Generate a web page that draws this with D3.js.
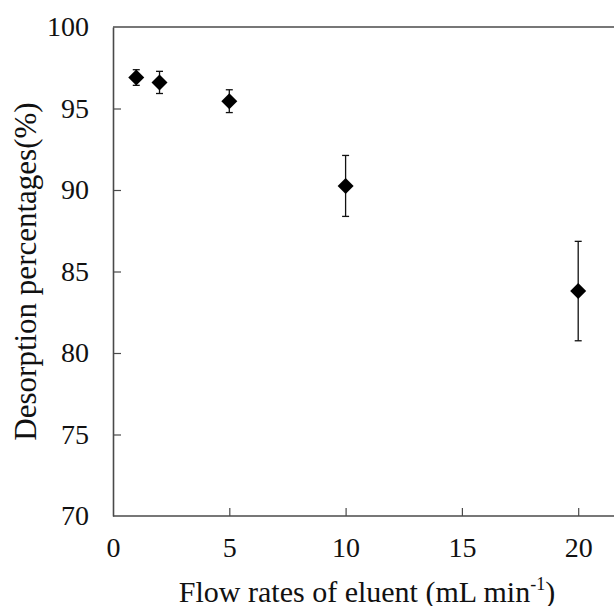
<!DOCTYPE html>
<html>
<head>
<meta charset="utf-8">
<script src="https://cdn.jsdelivr.net/npm/d3@7"></script>
<style>
  body { margin: 0; background: #fff; }
  svg { display: block; font-family: "Liberation Serif", "Times New Roman", serif; }
</style>
</head>
<body>
<script>
// flow rates (mL/min), desorption (%) and error bar half-widths
var flowRates = [1, 2, 5, 10, 20];
var desorption = [96.9, 96.6, 95.45, 90.25, 83.8];
var errors = [0.48, 0.68, 0.7, 1.87, 3.05];
var xTicks = [0, 5, 10, 15, 20];
var yTicks = [70, 75, 80, 85, 90, 95, 100];

var width = 614, height = 606;
var plotLeft = 113, plotTop = 27, plotBottom = 516;

var svg = d3.select("body").append("svg")
    .attr("width", width)
    .attr("height", height);

var x = d3.scaleLinear().domain([0, 22]).range([plotLeft, plotLeft + 22 * 23.26]);
var y = d3.scaleLinear().domain([70, 100]).range([plotBottom, plotTop]);

var axisColor = "#4a4a4a";

// top border
svg.append("line")
    .attr("x1", plotLeft).attr("x2", width)
    .attr("y1", plotTop).attr("y2", plotTop)
    .attr("stroke", axisColor)
    .attr("stroke-width", 1.6);

var yAxis = svg.append("g")
    .attr("transform", "translate(" + plotLeft + ",0)")
    .call(d3.axisLeft(y).tickValues(yTicks).tickSizeInner(-8).tickSizeOuter(0).tickPadding(24));

var xAxis = svg.append("g")
    .attr("transform", "translate(0," + plotBottom + ")")
    .call(d3.axisBottom(x).tickValues(xTicks).tickSizeInner(-8).tickSizeOuter(0).tickPadding(21));

[yAxis, xAxis].forEach(function(g){
    g.select(".domain").attr("stroke", axisColor).attr("stroke-width", 1.6);
    g.selectAll(".tick line").attr("stroke", axisColor).attr("stroke-width", 1.2);
    g.selectAll(".tick text")
        .attr("fill", "#111")
        .style("font-family", "'Liberation Serif', serif")
        .style("font-size", "28px");
});
// no ticks at the corner
yAxis.selectAll(".tick").filter(function(d){ return d === 70 || d === 100; }).select("line").remove();
xAxis.selectAll(".tick").filter(function(d){ return d === 0; }).select("line").remove();
xAxis.select(".domain").attr("d", "M" + plotLeft + ",0H" + width);

// error bars
var pts = flowRates.map(function(f, i){
    return {x: f, y: desorption[i], e: errors[i]};
});

var bars = svg.append("g").attr("stroke", "#111").attr("stroke-width", 1.3);
bars.selectAll(".stem")
    .data(pts)
    .enter().append("line")
        .attr("x1", function(d){ return x(d.x); })
        .attr("x2", function(d){ return x(d.x); })
        .attr("y1", function(d){ return y(d.y + d.e); })
        .attr("y2", function(d){ return y(d.y - d.e); });
bars.selectAll(".capTop")
    .data(pts)
    .enter().append("line")
        .attr("x1", function(d){ return x(d.x) - 3.5; })
        .attr("x2", function(d){ return x(d.x) + 3.5; })
        .attr("y1", function(d){ return y(d.y + d.e); })
        .attr("y2", function(d){ return y(d.y + d.e); });
bars.selectAll(".capBot")
    .data(pts)
    .enter().append("line")
        .attr("x1", function(d){ return x(d.x) - 3.5; })
        .attr("x2", function(d){ return x(d.x) + 3.5; })
        .attr("y1", function(d){ return y(d.y - d.e); })
        .attr("y2", function(d){ return y(d.y - d.e); });

// diamond markers
var diamond = d3.symbol().type(d3.symbolSquare).size(128);
svg.append("g").selectAll("path")
    .data(pts)
    .enter().append("path")
        .attr("d", diamond)
        .attr("transform", function(d){ return "translate(" + x(d.x) + "," + y(d.y) + ") rotate(45)"; })
        .attr("fill", "#000");

// axis titles
svg.append("text")
    .attr("transform", "translate(36," + ((plotTop + plotBottom) / 2) + ") rotate(-90)")
    .attr("text-anchor", "middle")
    .attr("fill", "#111")
    .style("font-size", "31px")
    .text("Desorption percentages(%)");

var xt = svg.append("text")
    .attr("x", 367)
    .attr("y", 602)
    .attr("text-anchor", "middle")
    .attr("fill", "#111")
    .style("font-size", "30px");
xt.append("tspan").text("Flow rates of eluent (mL min");
xt.append("tspan").attr("dy", -12).style("font-size", "18px").text("-1");
xt.append("tspan").attr("dy", 12).text(")");
</script>
</body>
</html>
